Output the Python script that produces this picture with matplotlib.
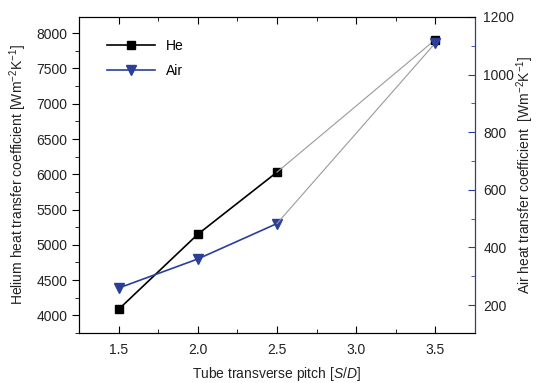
import matplotlib
matplotlib.use("Agg")
import matplotlib.pyplot as plt
from matplotlib.ticker import MultipleLocator

plt.rcParams['font.family'] = ['Liberation Sans', 'DejaVu Sans']
plt.rcParams['mathtext.fontset'] = 'custom'
plt.rcParams['mathtext.rm'] = 'Liberation Sans'
plt.rcParams['mathtext.it'] = 'Liberation Sans:italic'

# data
pitch = [1.5, 2.0, 2.5, 3.5]
helium = [4085, 5150, 6030, 7910]
air = [259, 360, 483, 1110]

blue = '#2b3f9a'
gray = '#9a9a9a'
txt = '#222222'

fig = plt.figure(figsize=(5.38, 3.83), dpi=100)
ax = fig.add_axes([79 / 538, 50 / 383, 396 / 538, 316 / 383])
ax2 = ax.twinx()

# measured points (solid) and extrapolated link (thin gray)
ax.plot(pitch[:3], helium[:3], color='black', lw=1.2, marker='s', ms=6, label='He')
ax.plot(pitch[2:], helium[2:], color=gray, lw=0.8)
ax.plot(pitch[3:], helium[3:], ls='none', color='black', marker='s', ms=6)

ax2.plot(pitch[:3], air[:3], color=blue, lw=1.2, marker='v', ms=7, label='Air')
ax2.plot(pitch[2:], air[2:], color=gray, lw=0.8)
ax2.plot(pitch[3:], air[3:], ls='none', color=blue, marker='v', ms=7)

ax.set_xlim(1.25, 3.75)
ax.set_ylim(3750, 8230)
ax2.set_ylim(103, 1200)

ax.xaxis.set_major_locator(MultipleLocator(0.5))
ax.xaxis.set_minor_locator(MultipleLocator(0.25))
ax.yaxis.set_major_locator(MultipleLocator(500))
ax.yaxis.set_minor_locator(MultipleLocator(250))
ax2.yaxis.set_major_locator(MultipleLocator(200))
ax2.yaxis.set_minor_locator(MultipleLocator(100))

ax.tick_params(axis='x', which='both', direction='in', top=True, labelsize=10,
               pad=7, labelcolor=txt)
ax.tick_params(axis='x', which='major', length=5)
ax.tick_params(axis='x', which='minor', length=3)
ax.tick_params(axis='y', which='both', direction='out', labelsize=10, labelcolor=txt)
ax.tick_params(axis='y', which='major', length=5)
ax.tick_params(axis='y', which='minor', length=3)
ax2.tick_params(axis='y', which='both', direction='in', colors=blue, labelcolor=txt,
                labelsize=10, pad=6)
ax2.tick_params(axis='y', which='major', length=5)
ax2.tick_params(axis='y', which='minor', length=3)
ax2.spines['right'].set_color(blue)

ax.set_xlabel('Tube transverse pitch [$\\mathit{S/D}$]', fontsize=10, color=txt, labelpad=6)
ax.set_ylabel('Helium heat transfer coefficient [Wm$^{-2}$K$^{-1}$]', fontsize=10,
              color=txt, labelpad=5)
ax2.set_ylabel('Air heat transfer coefficient  [Wm$^{-2}$K$^{-1}$]', fontsize=10,
               color=txt, labelpad=0)

h1, l1 = ax.get_legend_handles_labels()
h2, l2 = ax2.get_legend_handles_labels()
ax.legend(h1 + h2, l1 + l2, loc='upper left', frameon=False, fontsize=10,
          bbox_to_anchor=(0.04, 0.97), handlelength=3.4, labelspacing=0.8,
          handletextpad=0.8)

fig.savefig('out.png', dpi=100)
